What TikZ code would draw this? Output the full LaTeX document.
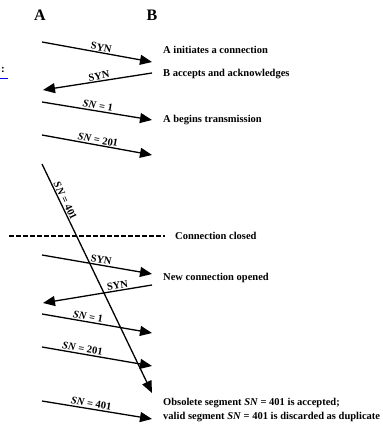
\documentclass[tikz,border=0pt]{standalone}
\usepackage{fontspec}
\setmainfont{Liberation Serif}
\usetikzlibrary{arrows.meta,positioning}
\tikzset{
  >={Triangle[length=12pt,width=10pt]},
  msg/.style={->,line width=1.3pt,draw=black},
  lbl/.style={font=\bfseries\fontsize{10.5}{11}\selectfont,sloped,above,inner sep=1pt},
  ev/.style={font=\bfseries\fontsize{10.5}{14}\selectfont,anchor=west,inner sep=0pt,align=left},
  ep/.style={font=\bfseries\fontsize{16}{16}\selectfont,inner sep=0pt},
}
\newcommand{\sn}{\textit{SN}}
\begin{document}
\begin{tikzpicture}[x=1pt,y=1pt]
  \useasboundingbox (0,0) rectangle (382,-446);
  % end points
  \node[ep] (A) at (40,-15) {A};
  \node[ep] (B) at (152,-15) {B};
  % left edge mark
  \node[font=\bfseries\fontsize{11}{11}\selectfont,inner sep=0pt] (lnk) at (3,-70) {:};
  \draw[blue,line width=1.3pt] (0,-78.5) -- (8,-78.5);
  % sides of the arrows
  \foreach \n/\ya/\yb in {1/42/62,3/102/120,4/135/155,5/255/274,7/314/333,8/347/366,9/401/419}{
    \coordinate (s\n) at (42,-\ya);
    \coordinate (t\n) at (152,-\yb);
  }
  \coordinate (s2) at (152,-73);  \coordinate (t2) at (43,-90);
  \coordinate (s6) at (152,-285); \coordinate (t6) at (43,-303);
  \coordinate (s0) at (42,-164);  \coordinate (t0) at (152,-393);
  \draw[msg] (s1) -- node[lbl,pos=0.53] {SYN} (t1);
  \draw[msg] (s2) -- node[lbl,pos=0.48] {SYN} (t2);
  \draw[msg] (s3) -- node[lbl,pos=0.5] {\sn{} = 1} (t3);
  \draw[msg] (s4) -- node[lbl,pos=0.5] {\sn{} = 201} (t4);
  \draw[msg] (s0) -- node[lbl,pos=0.17] {\sn{} = 401} (t0);
  \draw[msg] (s5) -- node[lbl,pos=0.53] {SYN} (t5);
  \draw[msg] (s6) -- node[lbl,pos=0.31] {SYN} (t6);
  \draw[msg] (s7) -- node[lbl,pos=0.41] {\sn{} = 1} (t7);
  \draw[msg] (s8) -- node[lbl,pos=0.36] {\sn{} = 201} (t8);
  \draw[msg] (s9) -- node[lbl,pos=0.44] {\sn{} = 401} (t9);
  % closing line
  \coordinate (c0) at (9,-236);
  \coordinate (c1) at (165,-236);
  \draw[line width=1.1pt,dash pattern=on 4.5pt off 2.5pt] (c0) -- (c1);
  % events
  \node[ev] (e1) at (163,-50) {A initiates a connection};
  \node[ev] (e2) at (163,-74) {B accepts and acknowledges};
  \node[ev] (e3) at (163,-120) {A begins transmission};
  \node[ev] (e4) at (175,-236) {Connection closed};
  \node[ev] (e5) at (163,-278) {New connection opened};
  \node[ev] (e6) at (163,-410) {Obsolete segment \sn{} = 401 is accepted;\\valid segment \sn{} = 401 is discarded as duplicate};
\end{tikzpicture}
\end{document}
